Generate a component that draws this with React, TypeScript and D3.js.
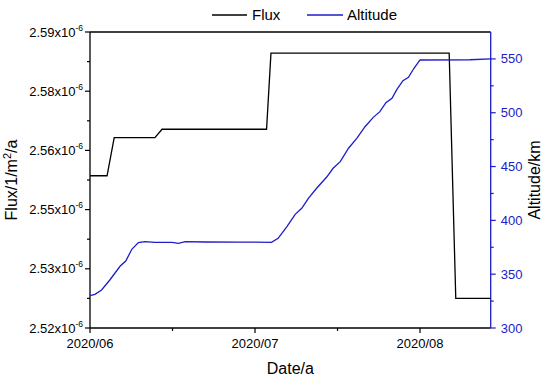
import React from 'react';
import * as d3 from 'd3';

// days since 2020/06/01
const fluxDays = [0, 3.1, 4.4, 11.8, 13.1, 32.1, 32.9, 65.3, 66.5, 72.85];
const fluxValues = [2.556, 2.556, 2.565, 2.565, 2.567, 2.567, 2.585, 2.585, 2.527, 2.527]; // x1e-6

const altDays = [0, 0.9, 2.1, 3.6, 5.5, 6.5, 7.6, 8.8, 10.0, 11.8, 14.9, 16.1, 17.3, 20.9, 27.3, 33.0,
  34.2, 35.8, 37.3, 38.5, 39.7, 41.2, 43.0, 44.2, 45.5, 47.0, 48.5, 50.0, 51.5, 52.7, 53.8, 54.9,
  55.8, 56.9, 57.9, 58.9, 60.0, 69.1, 72.85];
const altValues = [330.0, 331.3, 335.3, 344.6, 357.6, 362.2, 373.1, 379.3, 380.2, 379.6, 379.6, 378.7, 380.2, 379.9, 379.8, 379.6,
  383.3, 394.1, 405.6, 411.2, 420.5, 429.8, 440.0, 448.4, 454.5, 467.0, 476.2, 487.0, 495.7, 501.0, 509.3, 513.4,
  521.7, 529.8, 532.9, 541.3, 549.0, 549.2, 550.0];

const dateTicks = [0, 30, 60];
const dateLabels = ['2020/06', '2020/07', '2020/08'];
const dateMinor = [15, 45];
const fluxTicks = [2.52, 2.534, 2.548, 2.562, 2.576, 2.59];
const altTicks = [300, 350, 400, 450, 500, 550];
const altMinor = [325, 375, 425, 475, 525];

const BLUE = '#1c1cc8';
const FONT = '"Liberation Sans", Arial, sans-serif';

const App = () => {
  const margin = { left: 90, right: 59.3, top: 32, bottom: 53 };
  const W = 550, H = 381;
  const x0 = margin.left, x1 = W - margin.right;
  const y0 = H - margin.bottom, y1 = margin.top;

  const x = d3.scaleLinear().domain([0, 72.85]).range([x0, x1]);
  const yF = d3.scaleLinear().domain([2.52, 2.59]).range([y0, y1]);
  const yA = d3.scaleLinear().domain([300, 575]).range([y0, y1]);

  const fluxLine = d3.line<number>().x((d, i) => x(fluxDays[i])).y(d => yF(d));
  const altLine = d3.line<number>().x((d, i) => x(altDays[i])).y(d => yA(d));

  const fluxMinor = d3.pairs(fluxTicks).map(([a, b]) => (a + b) / 2);

  return (
    <svg width={W} height={H} style={{ position: 'absolute', left: 0, top: 0, background: '#fff' }}
      fontFamily={FONT}>
      {/* frame */}
      <line x1={x0} x2={x1} y1={y1} y2={y1} stroke="#000" strokeWidth={1.3} />
      <line x1={x0} x2={x1} y1={y0} y2={y0} stroke="#000" strokeWidth={1.3} />
      <line x1={x0} x2={x0} y1={y1} y2={y0} stroke="#000" strokeWidth={1.3} />
      <line x1={x1} x2={x1} y1={y1} y2={y0} stroke={BLUE} strokeWidth={1.3} />

      {/* left axis */}
      {fluxTicks.map((t, i) => (
        <g key={'fl' + i} transform={`translate(0,${yF(t)})`}>
          <line x1={x0 - 5} x2={x0} stroke="#000" strokeWidth={1.2} />
          <text x={x0 - 7} dy={4.5} textAnchor="end" fontSize={13} fill="#000">
            {t.toFixed(2)}x10<tspan dy={-6} fontSize={8.5}>-6</tspan>
          </text>
        </g>
      ))}
      {fluxMinor.map((t, i) => (
        <line key={'fm' + i} x1={x0 - 3} x2={x0} y1={yF(t)} y2={yF(t)} stroke="#000" strokeWidth={1.2} />
      ))}

      {/* right axis */}
      {altTicks.map((t, i) => (
        <g key={'al' + i} transform={`translate(0,${yA(t)})`}>
          <line x1={x1} x2={x1 + 5} stroke={BLUE} strokeWidth={1.2} />
          <text x={x1 + 10} dy={4.5} fontSize={13} fill={BLUE}>{t}</text>
        </g>
      ))}
      {altMinor.map((t, i) => (
        <line key={'am' + i} x1={x1} x2={x1 + 3} y1={yA(t)} y2={yA(t)} stroke={BLUE} strokeWidth={1.2} />
      ))}

      {/* bottom axis */}
      {dateTicks.map((t, i) => (
        <g key={'dt' + i} transform={`translate(${x(t)},0)`}>
          <line y1={y0} y2={y0 + 5} stroke="#000" strokeWidth={1.2} />
          <text y={y0 + 20} textAnchor="middle" fontSize={13} fill="#000">{dateLabels[i]}</text>
        </g>
      ))}
      {dateMinor.map((t, i) => (
        <line key={'dm' + i} x1={x(t)} x2={x(t)} y1={y0} y2={y0 + 3} stroke="#000" strokeWidth={1.2} />
      ))}

      {/* data */}
      <path d={fluxLine(fluxValues) ?? ''} fill="none" stroke="#000" strokeWidth={1.3} />
      <path d={altLine(altValues) ?? ''} fill="none" stroke={BLUE} strokeWidth={1.3} />

      {/* axis titles */}
      <text x={(x0 + x1) / 2} y={374} textAnchor="middle" fontSize={16} fill="#000">Date/a</text>
      <text transform={`translate(17,${(y0 + y1) / 2}) rotate(-90)`} textAnchor="middle" fontSize={16} fill="#000">
        Flux/1/m<tspan dy={-6} fontSize={11}>2</tspan><tspan dy={6}>/a</tspan>
      </text>
      <text transform={`translate(540,${(y0 + y1) / 2}) rotate(-90)`} textAnchor="middle" fontSize={16} fill="#000">
        Altitude/km
      </text>

      {/* legend */}
      <line x1={212} x2={247} y1={15} y2={15} stroke="#000" strokeWidth={1.3} />
      <text x={252} y={20} fontSize={15} fill="#000">Flux</text>
      <line x1={307} x2={343} y1={15} y2={15} stroke={BLUE} strokeWidth={1.3} />
      <text x={347} y={20} fontSize={15} fill="#000">Altitude</text>
    </svg>
  );
};

export default App;
